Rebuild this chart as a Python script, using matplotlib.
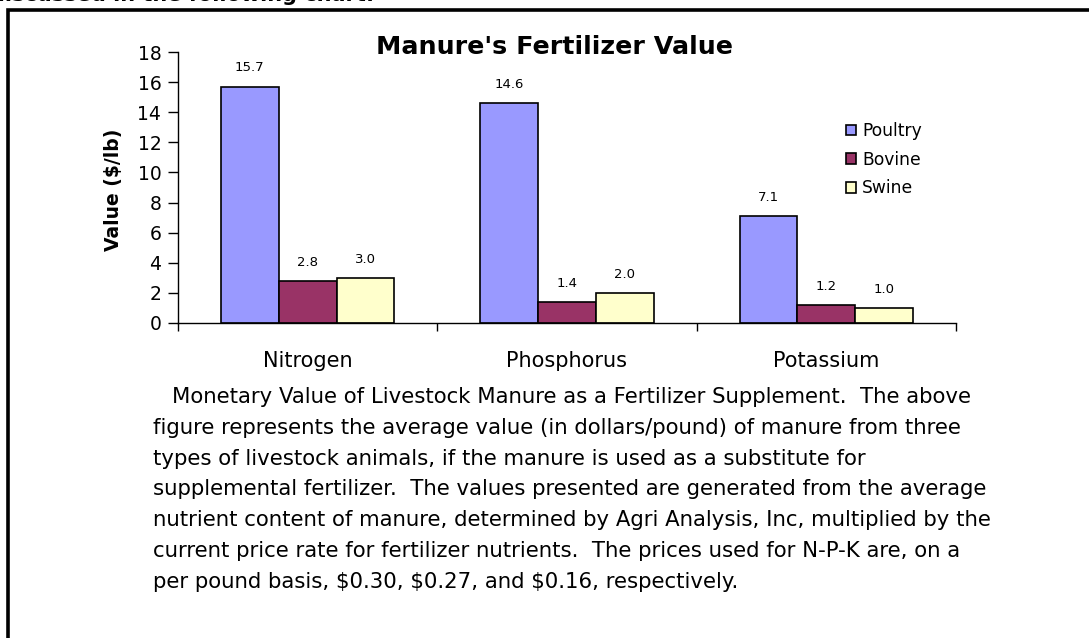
import numpy as np
import matplotlib
matplotlib.use("Agg")
import matplotlib.pyplot as plt
from matplotlib.patches import Rectangle

plt.rcParams['font.family'] = ['DejaVu Sans']

nutrients = ["Nitrogen", "Phosphorus", "Potassium"]
animals = ["Poultry", "Bovine", "Swine"]
poultry = [15.7, 14.6, 7.1]
bovine = [2.8, 1.4, 1.2]
swine = [3.0, 2.0, 1.0]
colors = ["#9999FF", "#993366", "#FFFFCC"]

caption = [
    "Monetary Value of Livestock Manure as a Fertilizer Supplement.  The above",
    "figure represents the average value (in dollars/pound) of manure from three",
    "types of livestock animals, if the manure is used as a substitute for",
    "supplemental fertilizer.  The values presented are generated from the average",
    "nutrient content of manure, determined by Agri Analysis, Inc, multiplied by the",
    "current price rate for fertilizer nutrients.  The prices used for N-P-K are, on a",
    "per pound basis, $0.30, $0.27, and $0.16, respectively.",
]

W, H = 1089, 638
fig = plt.figure(figsize=(W / 100, H / 100), dpi=100)
fig.patch.set_facecolor("white")

# outer box, runs off the right and bottom edges
fig.patches.append(Rectangle((8 / W, -0.2), 1.2, 1.2 - 10 / H, transform=fig.transFigure,
                             fill=False, edgecolor="black", linewidth=2.6))
# fragment of the heading above the box (cut off in the source too)
fig.text(-10 / W, 1 - 0.75 / H, "discussed in the following chart:", fontsize=15,
         fontweight="bold", va="baseline", ha="left")

ax = fig.add_axes([178 / W, 1 - 323 / H, (956 - 178) / W, (323 - 52) / H])

x = np.arange(len(nutrients))
w = 0.223
series = [poultry, bovine, swine]
for i, (name, vals, c) in enumerate(zip(animals, series, colors)):
    bars = ax.bar(x + (i - 1) * w, vals, w, color=c, edgecolor="black", linewidth=1.2, label=name)
    for b, v in zip(bars, vals):
        ax.annotate(f"{v:.1f}", (b.get_x() + b.get_width() / 2, v), xytext=(0, 13.5),
                    textcoords="offset points", ha="center", va="center", fontsize=9.5)

ax.set_xlim(-0.5, 2.5)
ax.set_ylim(0, 18)
ax.set_yticks(np.arange(0, 19, 2))
ax.tick_params(axis="y", labelsize=13.5, length=7, width=1, pad=5)
ax.set_xticks([-0.5, 0.5, 1.5, 2.5])
ax.set_xticklabels([])
ax.tick_params(axis="x", which="major", length=6, width=1)
ax.set_xticks(x, minor=True)
ax.set_xticklabels(nutrients, minor=True, fontsize=15)
ax.tick_params(axis="x", which="minor", length=0, pad=20)
for s in ["top", "right"]:
    ax.spines[s].set_visible(False)
ax.spines["left"].set_linewidth(1)
ax.spines["bottom"].set_linewidth(1)

ax.set_ylabel("Value ($/lb)", fontsize=13.5, fontweight="bold")
ax.yaxis.set_label_coords(-55 / (956 - 178), (323 - 190) / (323 - 52))

fig.text(554 / W, 1 - 47 / H, "Manure's Fertilizer Value", fontsize=18.3, fontweight="bold",
         ha="center", va="center")

ax.legend(loc="upper left", bbox_to_anchor=(846 / W, 1 - 122 / H), bbox_transform=fig.transFigure,
          frameon=False, fontsize=12.3, handlelength=0.6, handleheight=0.6, handletextpad=0.35,
          labelspacing=0.62, borderaxespad=0, borderpad=0)

for k, line in enumerate(caption):
    x0 = 172 if k == 0 else 153
    fig.text(x0 / W, 1 - (403 + 30.8 * k) / H, line, fontsize=15.3, ha="left", va="baseline")

fig.savefig("out.png", dpi=100)
